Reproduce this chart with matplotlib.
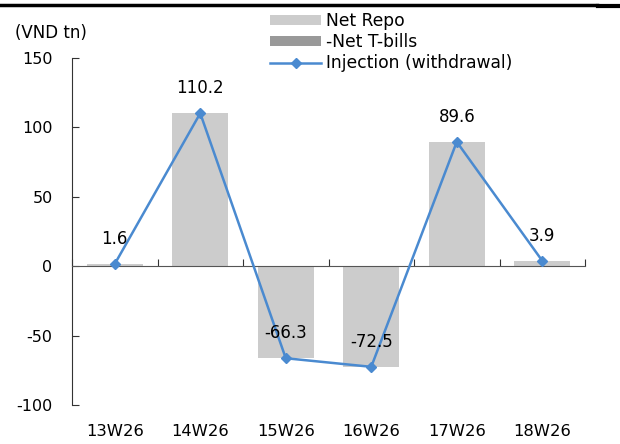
import matplotlib
matplotlib.use("Agg")
import matplotlib.pyplot as plt
from matplotlib.lines import Line2D
from matplotlib.transforms import blended_transform_factory
import numpy as np

plt.rcParams['font.family'] = ['DejaVu Sans']
plt.rcParams['axes.unicode_minus'] = False

categories = ["13W26", "14W26", "15W26", "16W26", "17W26", "18W26"]
net_repo = [1.6, 110.2, -66.3, -72.5, 89.6, 3.9]
net_tbills = [0.0, 0.0, 0.0, 0.0, 0.0, 0.0]
injection = [1.6, 110.2, -66.3, -72.5, 89.6, 3.9]
value_labels = ["1.6", "110.2", "-66.3", "-72.5", "89.6", "3.9"]
yticks = [-100, -50, 0, 50, 100, 150]

fig = plt.figure(figsize=(6.2, 4.44), dpi=100)
ax = fig.add_axes([72/620, 1-405/444, (585-72)/620, (405-58)/444])

x = np.arange(len(categories))
b1 = ax.bar(x, net_repo, width=0.66, color="#cccccc", label="Net Repo", zorder=1)
b2 = ax.bar(x, net_tbills, width=0.66, bottom=net_repo, color="#999999", label="-Net T-bills", zorder=1)
ln, = ax.plot(x, injection, color="#4a8ad0", lw=1.8, marker="D", ms=5.5, label="Injection (withdrawal)", zorder=3)

for xi, v, t in zip(x, injection, value_labels):
    ax.annotate(t, (xi, v), xytext=(0, 18), textcoords="offset points", ha="center", va="center", fontsize=12)

ax.set_xlim(-0.5, 5.5)
ax.set_ylim(-100, 150)
ax.set_yticks(yticks)
ax.spines['top'].set_visible(False)
ax.spines['right'].set_visible(False)
ax.spines['bottom'].set_position(('data', 0))
ax.spines['bottom'].set_color("#555555")
ax.spines['left'].set_color("#333333")
ax.set_xticks(np.arange(-0.5, 6, 1))
ax.tick_params(axis='x', direction='in', length=5, labelbottom=False, color="#333333")
ax.tick_params(axis='y', direction='in', length=5, labelsize=11.5, pad=14, color="#333333")

trans = blended_transform_factory(ax.transData, ax.transAxes)
for xi, c in zip(x, categories):
    ax.text(xi, -0.075, c, transform=trans, ha="center", va="center", fontsize=11.8)

fig.text(15/620, 1-33/444, "(VND tn)", ha="left", va="center", fontsize=12)

fig.legend([b1, b2, ln], ["Net Repo", "-Net T-bills", "Injection (withdrawal)"], loc="upper left",
           bbox_to_anchor=(270/620, 1-12/444), frameon=False, fontsize=12.3,
           handlelength=3.0, handleheight=0.5, handletextpad=0.3, labelspacing=0.18,
           borderpad=0, borderaxespad=0)

fig.add_artist(Line2D([0, 597/620], [1-5/444, 1-5/444], color="black", lw=2.5, transform=fig.transFigure))
fig.add_artist(Line2D([598/620, 1], [1-6.5/444, 1-6.5/444], color="black", lw=3, transform=fig.transFigure))

fig.savefig("out.png", dpi=100)
